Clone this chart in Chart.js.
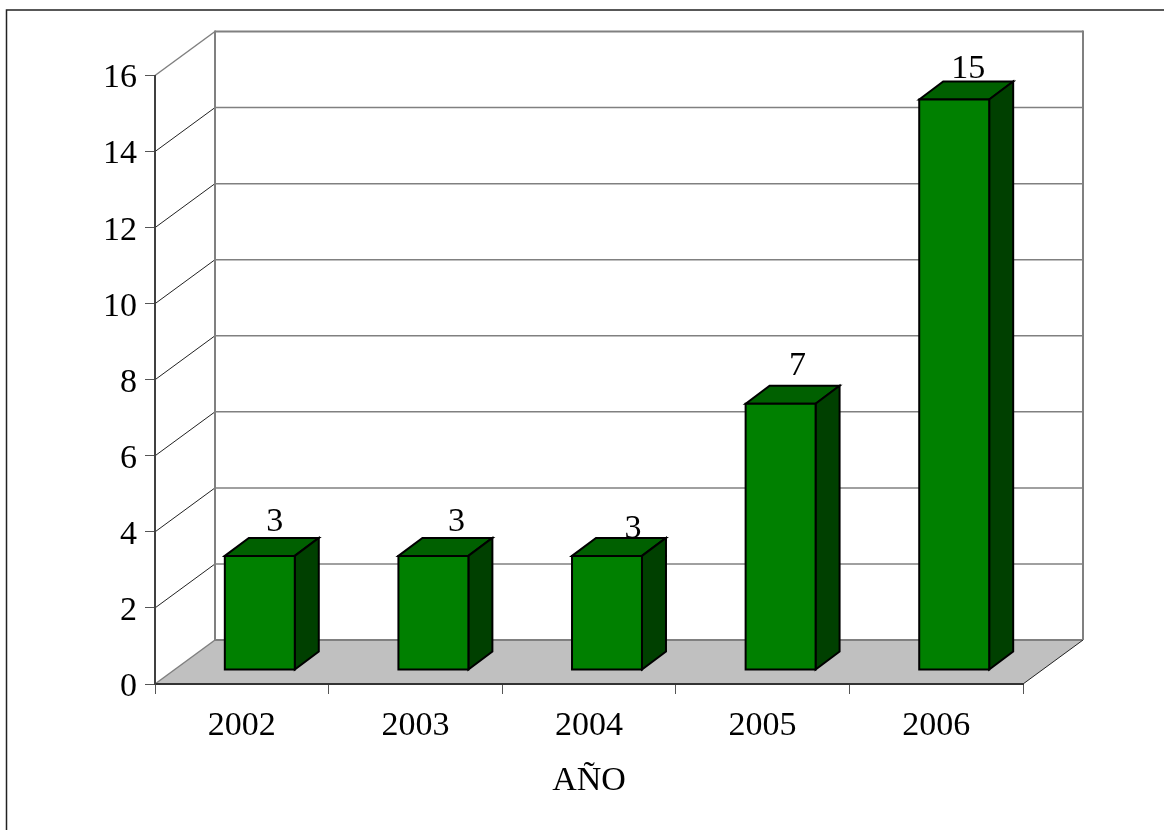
<!DOCTYPE html>
<html>
<head>
<meta charset="utf-8">
<style>html,body{margin:0;padding:0;background:#fff;overflow:hidden}#w{width:1164px;height:830px;position:relative}canvas{display:block}</style>
<script src="https://cdn.jsdelivr.net/npm/chart.js@4"></script>
</head>
<body>
<div id="w"><canvas id="c" width="1164" height="830"></canvas></div>
<script>
const categories = ['2002','2003','2004','2005','2006'];
const values = [3,3,3,7,15];
const yMax = 16;
const yStep = 2;
const axisTitle = 'AÑO';

const FONT = '"Liberation Serif", serif';
const FONT_SIZE = 34;
const WALL = {dx:60, dy:-44};
const BAR_SHIFT = {dx:18, dy:-14};
const BAR_DEPTH = {dx:24, dy:-18};
const LABEL_NUDGE = [[15,-34],[23,-34],[26,-27],[17,-38],[14,-30]];

function line(ctx,x1,y1,x2,y2,color,w){
  ctx.beginPath();ctx.moveTo(x1,y1);ctx.lineTo(x2,y2);ctx.strokeStyle=color;ctx.lineWidth=w;ctx.stroke();
}
function poly(ctx,pts,fill,stroke,w){
  ctx.beginPath();pts.forEach((p,i)=>i?ctx.lineTo(p[0],p[1]):ctx.moveTo(p[0],p[1]));ctx.closePath();
  if(fill){ctx.fillStyle=fill;ctx.fill();}
  if(stroke){ctx.strokeStyle=stroke;ctx.lineWidth=w;ctx.lineJoin='miter';ctx.stroke();}
}

const frame3d = {
  id:'frame3d',
  beforeDraw(chart){
    const {ctx,scales:{x,y}}=chart;
    const L=x.left,R=x.right,B=y.getPixelForValue(0),T=y.getPixelForValue(yMax);
    const dx=WALL.dx,dy=WALL.dy;
    ctx.save();
    ctx.fillStyle='#fff';ctx.fillRect(0,0,chart.width,chart.height);
    // page frame
    ctx.strokeStyle='#222';ctx.lineWidth=1.5;
    ctx.beginPath();ctx.moveTo(6.5,chart.height+2);ctx.lineTo(6.5,10);ctx.lineTo(chart.width+2,10);ctx.stroke();
    // floor
    poly(ctx,[[L,B],[L+dx,B+dy],[R+dx,B+dy],[R,B]],'#c0c0c0');
    line(ctx,L+dx,B+dy,R+dx,B+dy,'#808080',2);
    line(ctx,L,B,L+dx,B+dy,'#808080',1.5);
    line(ctx,R,B,R+dx,B+dy,'#222',1);
    // walls
    for(let v=yStep;v<=yMax;v+=yStep){
      const p=y.getPixelForValue(v);
      line(ctx,L,p,L+dx,p+dy,v===yMax?'#808080':'#222',v===yMax?1.5:1);
      line(ctx,L+dx,p+dy,R+dx,p+dy,'#808080',v===yMax?2:1.5);
    }
    line(ctx,L+dx,T+dy-1,L+dx,B+dy,'#808080',2);
    line(ctx,R+dx,T+dy-1,R+dx,B+dy,'#808080',2);
    ctx.restore();
  },
  beforeDatasetDraw(chart,args){
    const {ctx}=chart;
    ctx.save();
    ctx.translate(BAR_SHIFT.dx,BAR_SHIFT.dy);
    const ddx=BAR_DEPTH.dx,ddy=BAR_DEPTH.dy;
    args.meta.data.forEach(b=>{
      const hw=b.width/2,l=b.x-hw,r=b.x+hw,t=b.y,bt=b.base;
      poly(ctx,[[l,t],[l+ddx,t+ddy],[r+ddx,t+ddy],[r,t]],'#006000','#000',2);
      poly(ctx,[[r,t],[r+ddx,t+ddy],[r+ddx,bt+ddy],[r,bt]],'#004000','#000',2);
    });
  },
  afterDatasetDraw(chart,args){
    const {ctx}=chart;
    args.meta.data.forEach(b=>{
      const hw=b.width/2,l=b.x-hw,r=b.x+hw,t=b.y,bt=b.base;
      poly(ctx,[[l,t],[r,t],[r,bt],[l,bt]],null,'#000',2);
    });
    ctx.restore();
  },
  afterDatasetsDraw(chart){
    const {ctx}=chart;
    const meta=chart.getDatasetMeta(0);
    ctx.save();
    ctx.font=FONT_SIZE+'px '+FONT;ctx.fillStyle='#000';ctx.textAlign='center';ctx.textBaseline='middle';
    meta.data.forEach((b,i)=>{
      ctx.fillText(String(values[i]),b.x+BAR_SHIFT.dx+LABEL_NUDGE[i][0],b.y+BAR_SHIFT.dy+LABEL_NUDGE[i][1]);
    });
    ctx.restore();
  }
};

new Chart(document.getElementById('c'),{
  type:'bar',
  data:{labels:categories,datasets:[{
    data:values,backgroundColor:'#008000',borderWidth:0,
    barPercentage:0.403,categoryPercentage:1,clip:false
  }]},
  plugins:[frame3d],
  options:{
    responsive:false,animation:false,devicePixelRatio:1,
    layout:{padding:{top:75.5,right:141,left:0,bottom:0}},
    plugins:{legend:{display:false},tooltip:{enabled:false},title:{display:false}},
    scales:{
      x:{
        afterFit(s){s.height=146;},
        grid:{drawOnChartArea:false,drawTicks:true,tickLength:10,color:'#555',lineWidth:1},
        border:{color:'#333',width:2},
        ticks:{color:'#000',font:{family:FONT,size:FONT_SIZE},padding:12,maxRotation:0,autoSkip:false},
        title:{display:true,text:axisTitle,color:'#000',font:{family:FONT,size:FONT_SIZE},padding:{top:0,bottom:29}}
      },
      y:{
        min:0,max:yMax,
        afterFit(s){s.width=155;},
        grid:{drawOnChartArea:false,drawTicks:true,tickLength:10,color:'#555',lineWidth:1},
        border:{color:'#404040',width:2},
        ticks:{stepSize:yStep,color:'#000',font:{family:FONT,size:FONT_SIZE},padding:8,labelOffset:3}
      }
    }
  }
});
</script>
</body>
</html>
